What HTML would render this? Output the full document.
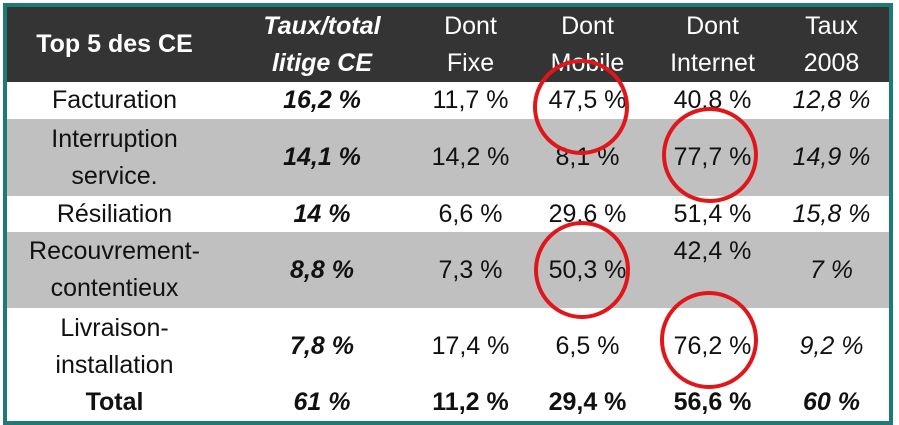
<!DOCTYPE html>
<html><head><meta charset="utf-8"><style>
body{margin:0;width:899px;height:425px;background:#fff;position:relative;overflow:hidden;font-family:"Liberation Sans",sans-serif;}
.frame{position:absolute;left:3px;top:3px;width:882px;height:414px;border:4px solid #1e7a76;background:#fff;}
.band{position:absolute;left:7px;width:882px;}
.c{position:absolute;text-align:center;font-size:25px;color:#111;line-height:33px;}
.h{color:#fff;}
</style></head><body>
<div class="frame"></div>
<div class="band" style="top:7px;height:75px;background:#343434"></div>
<div class="band" style="top:119px;height:77px;background:#c0c0c0"></div>
<div class="band" style="top:232px;height:76px;background:#c0c0c0"></div>
<div id="t"></div>
<script>
const cols=[[7,215],[222,200],[418,105],[525,125],[650,125],[775,113]];
const rows=[
 {top:7,h:75,cls:'h',cells:[['<b>Top 5 des CE</b>'],['<b><i>Taux/total<br>litige CE</i></b>'],['Dont<br>Fixe'],['Dont<br>Mobile'],['Dont<br>Internet'],['Taux<br>2008']]},
 {top:82,h:37,cells:[['Facturation'],['<b><i>16,2 %</i></b>'],['11,7 %'],['47,5 %'],['40,8 %'],['<i>12,8 %</i>']]},
 {top:119,h:77,cells:[['Interruption<br>service.'],['<b><i>14,1 %</i></b>'],['14,2 %'],['8,1 %'],['77,7 %'],['<i>14,9 %</i>']]},
 {top:196,h:36,cells:[['Résiliation'],['<b><i>14 %</i></b>'],['6,6 %'],['29,6 %'],['51,4 %'],['<i>15,8 %</i>']]},
 {top:232,h:76,cells:[['Recouvrement-<br>contentieux'],['<b><i>8,8 %</i></b>'],['7,3 %'],['50,3 %'],['42,4 %<br>&nbsp;'],['<i>7 %</i>']]},
 {top:308,h:77,cells:[['Livraison-<br>installation'],['<b><i>7,8 %</i></b>'],['17,4 %'],['6,5 %'],['76,2 %'],['<i>9,2 %</i>']]},
 {top:385,h:35,cells:[['<b>Total</b>'],['<b><i>61 %</i></b>'],['<b>11,2 %</b>'],['<b>29,4 %</b>'],['<b>56,6 %</b>'],['<b><i>60 %</i></b>']]}
];
let html='';
rows.forEach(r=>{r.cells.forEach((c,i)=>{
 const lines=(c[0].match(/<br>/g)||[]).length+1;
 const th=lines*37;
 const top=r.top+(r.h-th)/2;
 html+=`<div class="c ${r.cls||''}" style="left:${cols[i][0]}px;width:${cols[i][1]}px;top:${top}px;line-height:37px">${c[0]}</div>`;
});});
document.getElementById('t').innerHTML=html;
</script>
<svg width="899" height="425" style="position:absolute;left:0;top:0">
<g fill="none" stroke="#e0161b" stroke-width="4">
<ellipse cx="581" cy="107" rx="46" ry="46"/>
<ellipse cx="710" cy="155" rx="46" ry="46"/>
<ellipse cx="582" cy="270" rx="46" ry="47"/>
<ellipse cx="709" cy="340" rx="47" ry="47"/>
</g></svg>
</body></html>
